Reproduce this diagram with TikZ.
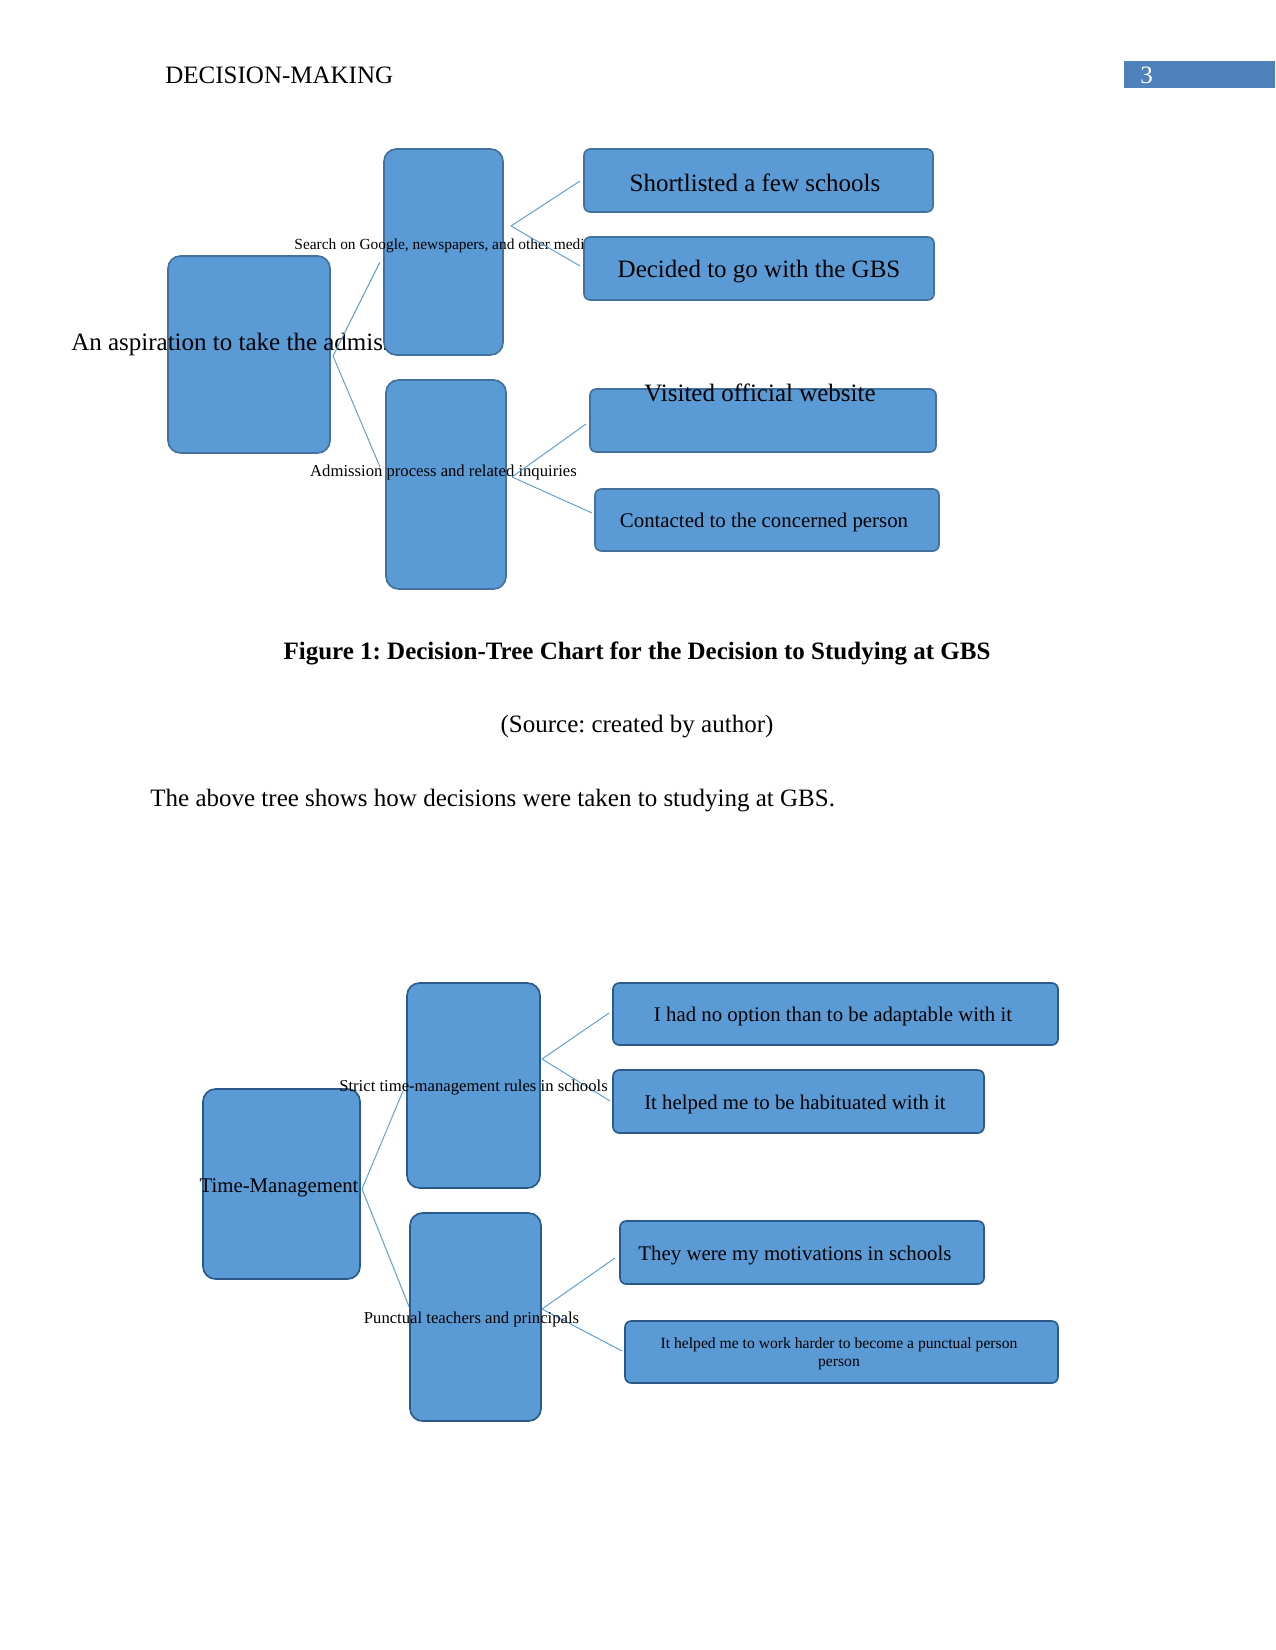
\documentclass[tikz,border=0pt]{standalone}
\usepackage{fontspec}
\setmainfont{Liberation Serif}
\frenchspacing
\definecolor{boxfill}{HTML}{5B9BD5}
\definecolor{edgeA}{HTML}{41719C}
\definecolor{edgeB}{HTML}{2B5A8A}
\definecolor{linkc}{HTML}{5B9BD5}
\definecolor{hdrbox}{HTML}{4F81BD}
\newcommand\fs[1]{\fontsize{#1}{#1}\selectfont}
\newcommand\mkbox[6]{\node[box,#6,minimum width={(#4-#2)*0.48pt},minimum height={(#5-#3)*0.48pt}] (#1) at ({(#2+#4)/2},{(#3+#5)/2}) {};}
\begin{document}
\begin{tikzpicture}[x=0.48pt,y=-0.48pt,
  box/.style={draw,fill=boxfill,rounded corners=6pt,inner sep=0pt,line width=0.8pt},
  boxA/.style={draw=edgeA},
  boxB/.style={draw=edgeB},
  leafA/.style={draw=edgeA,rounded corners=3pt},
  leafB/.style={draw=edgeB,rounded corners=3pt},
  link/.style={draw=linkc,line width=0.45pt},
  txt/.style={inner sep=0pt,text=black},
  every node/.append style={font=\fs{12}}]
\useasboundingbox (0,0) rectangle (1275,1650);
% header
\node[txt,anchor=west] (hdr) at (165,75) {DECISION-MAKING};
\node[fill=hdrbox,minimum width={151*0.48pt},minimum height={27*0.48pt},inner sep=0pt] (pgbox) at (1199.5,74.5) {};
\node[txt,text=white,anchor=west] (pgnum) at (1140,75) {3};

% ---------- Tree 1 ----------
\mkbox{rootA}{168}{256}{330}{453}{boxA}
\node[txt] (rootAt) at (248,344) {An aspiration to take the admission};
\coordinate (rA) at (333,356);
\coordinate (m1in) at (380,262);
\coordinate (m2in) at (380,467);
\draw[link] (rA) -- (m1in);
\draw[link] (rA) -- (m2in);
\mkbox{midA1}{384}{149}{503}{355}{boxA}
\mkbox{midA2}{386}{380}{506}{589}{boxA}
\node[txt,font=\fs{7.4}] (labA1) at (443,246) {Search on Google, newspapers, and other media};
\node[txt,font=\fs{8}] (labA2) at (443.5,472) {Admission process and related inquiries};
\coordinate (m1out) at (511,226);
\coordinate (l1in) at (580,181);
\coordinate (l2in) at (580,266);
\draw[link] (m1out) -- (l1in);
\draw[link] (m1out) -- (l2in);
\coordinate (m2out) at (512,477);
\coordinate (l3in) at (586,424);
\coordinate (l4in) at (592,513);
\draw[link] (m2out) -- (l3in);
\draw[link] (m2out) -- (l4in);
\mkbox{leafA1}{584}{149}{933}{212}{leafA}
\mkbox{leafA2}{584}{237}{934}{300}{leafA}
\mkbox{leafA3}{590}{389}{936}{452}{leafA}
\mkbox{leafA4}{595}{489}{939}{551}{leafA}
\node[txt] (tA1) at (755,183) {Shortlisted a few schools};
\node[txt] (tA2) at (759,272) {Decided to go with the GBS};
\node[txt] (tA3) at (760,393) {Visited official website};
\node[txt,font=\fs{10}] (tA4) at (764,522) {Contacted to the concerned person};

% captions
\node[txt,font=\fs{12}\bfseries] (cap) at (637,653) {Figure 1: Decision-Tree Chart for the Decision to Studying at GBS};
\node[txt] (src) at (637,727) {(Source: created by author)};
\node[txt,anchor=west] (body) at (150,801) {The above tree shows how decisions were taken to studying at GBS.};

% ---------- Tree 2 ----------
\mkbox{rootB}{203}{1089}{360}{1279}{boxB}
\coordinate (rB) at (362,1189);
\coordinate (n1in) at (403,1091);
\coordinate (n2in) at (410,1309);
\draw[link] (rB) -- (n1in);
\draw[link] (rB) -- (n2in);
\mkbox{midB1}{407}{983}{540}{1188}{boxB}
\mkbox{midB2}{410}{1213}{541}{1421}{boxB}
\coordinate (n1out) at (542,1059);
\coordinate (k1in) at (609,1013);
\coordinate (k2in) at (610,1101);
\draw[link] (n1out) -- (k1in);
\draw[link] (n1out) -- (k2in);
\coordinate (n2out) at (542,1309);
\coordinate (k3in) at (615,1258);
\coordinate (k4in) at (622,1351);
\draw[link] (n2out) -- (k3in);
\draw[link] (n2out) -- (k4in);
\mkbox{leafB1}{613}{983}{1058}{1045}{leafB}
\mkbox{leafB2}{613}{1070}{984}{1133}{leafB}
\mkbox{leafB3}{620}{1221}{984}{1284}{leafB}
\mkbox{leafB4}{625}{1321}{1058}{1383}{leafB}
\node[txt,font=\fs{10}] (rootBt) at (279,1188) {Time-Management};
\node[txt,font=\fs{8}] (labB1) at (473.5,1088) {Strict time-management rules in schools};
\node[txt,font=\fs{8}] (labB2) at (471.5,1319) {Punctual teachers and principals};
\node[txt,font=\fs{10}] (tB1) at (833,1016) {I had no option than to be adaptable with it};
\node[txt,font=\fs{10}] (tB2) at (795,1104) {It helped me to be habituated with it};
\node[txt,font=\fs{10}] (tB3) at (795,1256) {They were my motivations in schools};
\node[txt,font={\fontsize{7.5}{8.7}\selectfont},align=center] (tB4) at (839,1354) {It helped me to work harder to become a punctual person\\person};
\end{tikzpicture}
\end{document}
